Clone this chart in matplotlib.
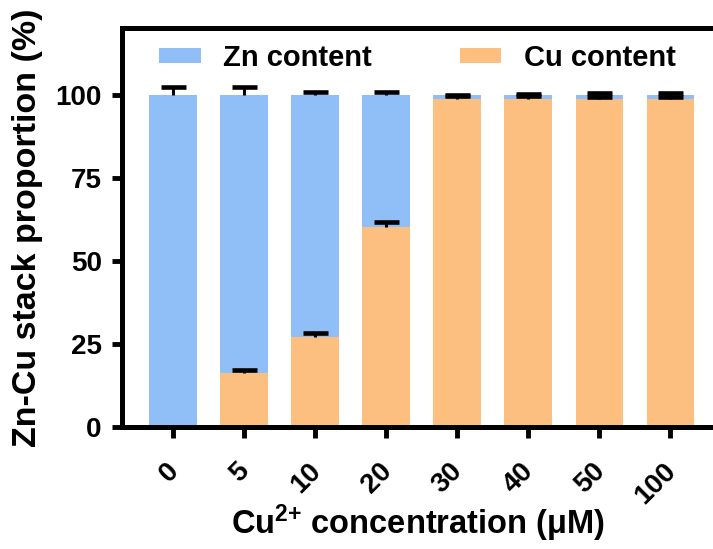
import matplotlib
matplotlib.use("Agg")
import matplotlib.pyplot as plt
from matplotlib import font_manager as fm
from matplotlib.transforms import ScaledTranslation
import numpy as np

bold_path = fm.findfont(fm.FontProperties(family='Liberation Sans', weight='bold'))
fm.fontManager.addfont(bold_path)
bold_name = fm.FontProperties(fname=bold_path).get_name()

plt.rcParams['font.family'] = [bold_name, 'DejaVu Sans']
plt.rcParams['font.weight'] = 'bold'
plt.rcParams['axes.labelweight'] = 'bold'
plt.rcParams['mathtext.fontset'] = 'custom'
plt.rcParams['mathtext.rm'] = bold_name + ':bold'
plt.rcParams['mathtext.bf'] = bold_name + ':bold'
plt.rcParams['mathtext.default'] = 'bf'

categories = ['0', '5', '10', '20', '30', '40', '50', '100']
cu_content = [0.0, 16.4, 27.0, 60.3, 98.6, 98.6, 98.6, 98.6]
zn_content = [100.0, 83.6, 73.0, 39.7, 1.4, 1.4, 1.4, 1.4]
cu_err = [0.0, 0.8, 1.2, 1.4, 0.9, 0.9, 0.8, 0.8]
zn_err = [2.3, 2.3, 0.7, 0.7, 0.0, 0.1, 0.6, 0.6]

blue = '#90BEF6'
orange = '#FDBF80'

fig = plt.figure(figsize=(7.13, 5.49), dpi=100)
ax = fig.add_axes([0.171, 0.222, 0.829, 0.727])

x = np.arange(len(categories))
w = 0.67
ax.bar(x, cu_content, w, color=orange, label='Cu content', zorder=2)
ax.bar(x, zn_content, w, bottom=cu_content, color=blue, label='Zn content', zorder=2)

cu = np.array(cu_content)
tops = cu + np.array(zn_content)
zt = tops + np.array(zn_err)
ct = cu + np.array(cu_err)
capw = 0.175
mask = cu > 0
ax.vlines(x, tops, zt, color='black', lw=2.2, zorder=3)
ax.hlines(zt, x - capw, x + capw, color='black', lw=3.3, zorder=3)
ax.vlines(x[mask], cu[mask], ct[mask], color='black', lw=2.2, zorder=3)
ax.hlines(ct[mask], x[mask] - capw, x[mask] + capw, color='black', lw=3.3, zorder=3)

ax.set_xlim(-0.72, 7.6)
ax.set_ylim(0, 120)
ax.set_yticks([0, 25, 50, 75, 100])
ax.set_xticks(x)
ax.set_xticklabels(categories, rotation=45, ha='right', va='center', rotation_mode='anchor')
ax.tick_params(axis='both', labelsize=20, width=3.5, length=7.5)
ax.tick_params(axis='x', pad=16, length=8)
ax.tick_params(axis='y', pad=7)
offset = ScaledTranslation(0.015, -0.07, fig.dpi_scale_trans)
for lab in ax.get_xticklabels():
    lab.set_transform(lab.get_transform() + offset)

ax.spines['right'].set_visible(False)
for s in ['left', 'bottom', 'top']:
    ax.spines[s].set_linewidth(3.6)

ax.set_ylabel('Zn-Cu stack proportion (%)', fontsize=24.5)
ax.yaxis.set_label_coords(-0.134, 0.5)
ax.set_xlabel('Cu$^{2{+}}$ concentration (μM)', fontsize=23.5)
ax.xaxis.set_label_coords(0.5, -0.19)

h, l = ax.get_legend_handles_labels()
ax.legend([h[1], h[0]], [l[1], l[0]], ncol=2, frameon=False, loc='upper center',
          bbox_to_anchor=(0.5, 1.022), fontsize=21, handlelength=1.43, handleheight=0.45,
          handletextpad=0.78, columnspacing=3.0, borderaxespad=0.45)

fig.savefig('out.png', dpi=100)
